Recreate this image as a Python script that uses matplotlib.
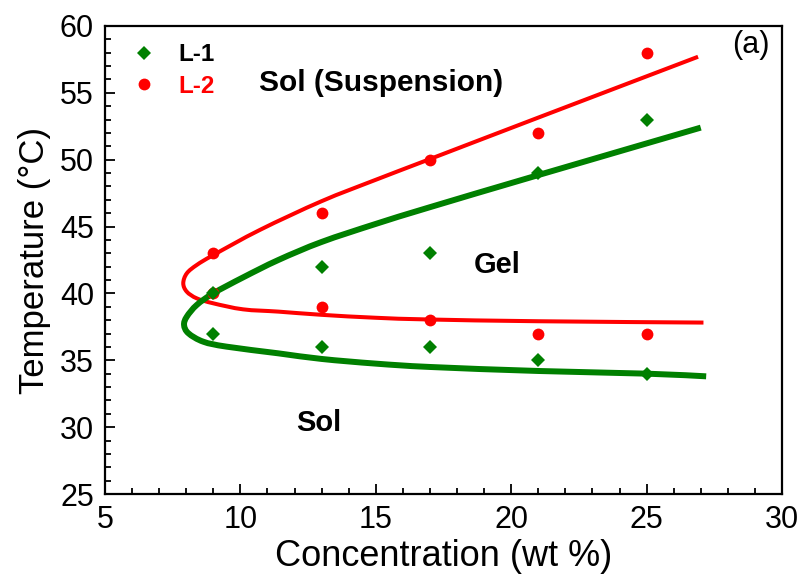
import matplotlib
matplotlib.use("Agg")
import matplotlib.pyplot as plt
from matplotlib.ticker import MultipleLocator
from matplotlib.lines import Line2D
from matplotlib.path import Path
from matplotlib.patches import PathPatch

# ---- data ----
l1_conc = [9, 9, 13, 13, 17, 17, 21, 21, 25, 25]
l1_temp = [40, 37, 42, 36, 43, 36, 49, 35, 53, 34]

l2_conc = [9, 9, 13, 13, 17, 17, 21, 21, 25, 25]
l2_temp = [43, 40, 46, 39, 50, 38, 52, 37, 58, 37]

# fitted phase-boundary curves
l2_curve_conc = [26.9, 21.0, 17.0, 15.0, 13.0, 10.72, 9.0, 8.39, 8.02, 7.89,
                 8.02, 8.39, 9.0, 10.1, 11.4, 13.0, 15.0, 17.0, 21.0, 27.1]
l2_curve_temp = [57.7, 53.15, 50.05, 48.5, 46.9, 44.75, 42.87, 42.13, 41.5, 40.76,
                 40.13, 39.63, 39.26, 38.81, 38.64, 38.4, 38.18, 38.05, 37.92, 37.82]

l1_curve_conc = [27.0, 21.0, 17.0, 15.0, 13.0, 11.4, 10.1, 9.0, 8.39, 8.02,
                 7.92, 8.08, 8.63, 9.49, 11.4, 13.0, 15.0, 17.0, 21.0, 25.0, 27.2]
l1_curve_temp = [52.4, 48.85, 46.45, 45.2, 43.85, 42.5, 41.2, 40.01, 39.14, 38.26,
                 37.64, 37.02, 36.39, 36.02, 35.52, 35.1, 34.75, 34.5, 34.2, 34.0, 33.8]

series_names = ["L-1", "L-2"]
x_ticks = [5, 10, 15, 20, 25, 30]
y_ticks = [25, 30, 35, 40, 45, 50, 55, 60]

GREEN = "#008000"
RED = "#ff0000"

plt.rcParams["font.family"] = ["Liberation Sans", "DejaVu Sans"]

fig = plt.figure(figsize=(8.01, 5.79), dpi=100)
ax = fig.add_axes([105 / 801, 1 - 494 / 579, (782 - 105) / 801, (494 - 26) / 579])
ax.set_xlim(5, 30)
ax.set_ylim(25, 60)


def smooth_curve(ax, xs, ys, **kw):
    """Draw a smooth line through the read points (Catmull-Rom as cubic Bezier,
    computed in display space so the curvature looks even)."""
    pts = ax.transData.transform(list(zip(xs, ys)))
    n = len(pts)
    verts = [tuple(pts[0])]
    codes = [Path.MOVETO]
    for i in range(n - 1):
        p0 = pts[i - 1] if i > 0 else pts[i]
        p1 = pts[i]
        p2 = pts[i + 1]
        p3 = pts[i + 2] if i + 2 < n else pts[i + 1]
        c1 = p1 + (p2 - p0) / 6.0
        c2 = p2 - (p3 - p1) / 6.0
        verts += [tuple(c1), tuple(c2), tuple(p2)]
        codes += [Path.CURVE4] * 3
    inv = ax.transData.inverted()
    verts = inv.transform(verts)
    patch = PathPatch(Path(verts, codes), fill=False, **kw)
    ax.add_patch(patch)


smooth_curve(ax, l2_curve_conc, l2_curve_temp, edgecolor=RED, lw=2.9,
             capstyle="butt", joinstyle="round", zorder=2)
smooth_curve(ax, l1_curve_conc, l1_curve_temp, edgecolor=GREEN, lw=4.3,
             capstyle="butt", joinstyle="round", zorder=2)

ax.plot(l2_conc, l2_temp, "o", color=RED, ms=8.5, mew=0, zorder=3)
ax.plot(l1_conc, l1_temp, "D", color=GREEN, ms=7.5, mew=0, zorder=4)

ax.set_xticks(x_ticks)
ax.set_yticks(y_ticks)
ax.xaxis.set_minor_locator(MultipleLocator(1))
ax.yaxis.set_minor_locator(MultipleLocator(1))
ax.tick_params(which="both", direction="in", top=False, right=False, width=1.3)
ax.tick_params(which="major", length=7)
ax.tick_params(which="minor", length=4)
ax.tick_params(axis="x", which="major", pad=8, labelsize=22)
ax.tick_params(axis="y", which="major", pad=8, labelsize=22)

for sp in ax.spines.values():
    sp.set_linewidth(1.6)

ax.set_xlabel("Concentration (wt %)", fontsize=26, labelpad=3)
ax.set_ylabel("Temperature (\u00b0C)", fontsize=25, labelpad=6)

ax.text(15.2, 55.7, "Sol (Suspension)", fontsize=21.5, fontweight="bold",
        ha="center", va="center")
ax.text(19.5, 42.1, "Gel", fontsize=21, fontweight="bold", ha="center", va="center")
ax.text(12.9, 30.3, "Sol", fontsize=21, fontweight="bold", ha="center", va="center")
ax.text(0.982, 0.992, "(a)", transform=ax.transAxes, fontsize=22,
        ha="right", va="top")

handles = [Line2D([], [], ls="none", marker="D", color=GREEN, ms=7.5, mew=0),
           Line2D([], [], ls="none", marker="o", color=RED, ms=8.5, mew=0)]
leg = ax.legend(handles, series_names, loc="upper left", bbox_to_anchor=(0.0, 1.0),
                frameon=False, prop={"size": 17.5, "weight": "bold"},
                handletextpad=0.5, labelspacing=0.35, borderaxespad=0.3,
                handlelength=1.8)
leg.get_texts()[1].set_color(RED)

fig.savefig("out.png", dpi=100)
